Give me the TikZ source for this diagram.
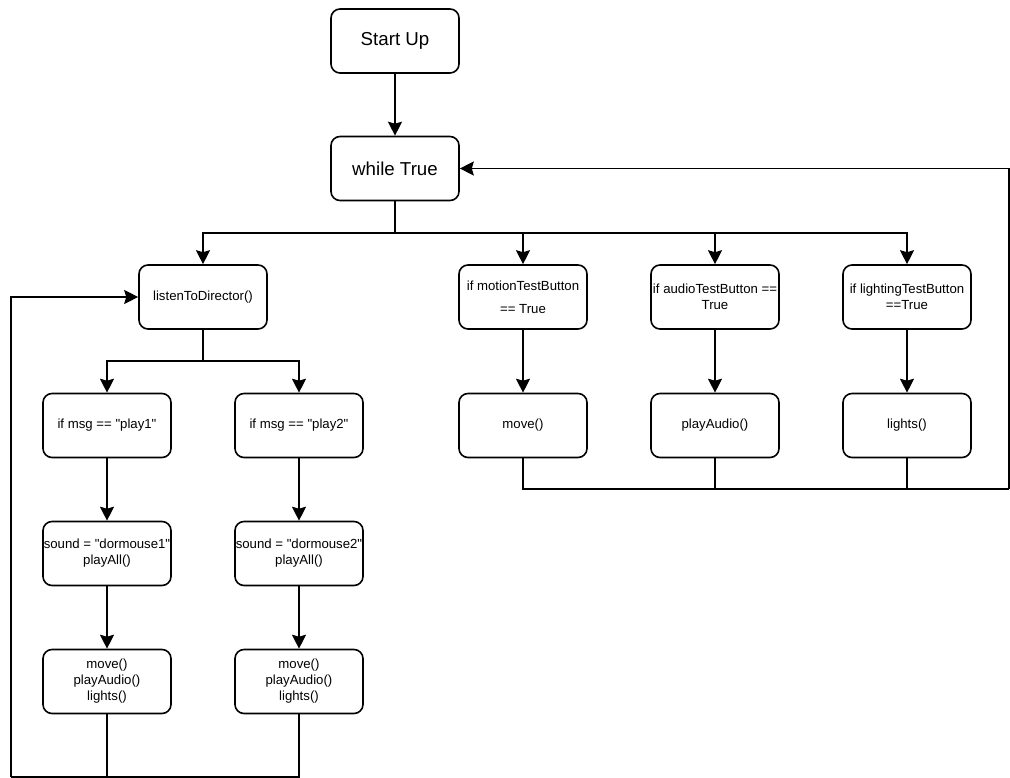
\documentclass[tikz,border=0pt]{standalone}
\usepackage{fontspec}
\setmainfont{Liberation Sans}
\usetikzlibrary{arrows.meta}
\newcommand{\dq}{\textquotedbl}
\begin{document}
\begin{tikzpicture}[x=1pt,y=-1pt,
  box/.style={draw=black,line width=1.6pt,rounded corners=9pt,fill=white,
    minimum width=128pt,minimum height=64pt,inner sep=0pt,align=center,
    font=\fontsize{13.2}{16}\selectfont},
  bigbox/.style={box,font=\fontsize{18.7}{22}\selectfont},
  link/.style={line width=1.6pt},
  flow/.style={link,-{Stealth[length=14pt,width=14pt,inset=2pt]}}]
\useasboundingbox (0,0) rectangle (1010,778);

% top of the loop
\node[bigbox] (start) at (395,41) {Start Up};
\node[bigbox] (loop) at (395,168.5) {while True};

% director branch
\node[box] (listen) at (203,297) {listenToDirector()};
\node[box] (msg1) at (107,425.5) {if msg == \dq play1\dq};
\node[box] (msg2) at (299,425.5) {if msg == \dq play2\dq};
\node[box] (snd1) at (107,553.5) {sound = \dq dormouse1\dq\\playAll()};
\node[box] (snd2) at (299,553.5) {sound = \dq dormouse2\dq\\playAll()};
\node[box] (all1) at (107,681.5) {move()\\playAudio()\\lights()};
\node[box] (all2) at (299,681.5) {move()\\playAudio()\\lights()};

% test buttons
\node[box,font=\fontsize{13.2}{23}\selectfont] (motion) at (523,297) {if motionTestButton\\== True};
\node[box] (audio) at (715,297) {if audioTestButton ==\\True};
\node[box] (light) at (907,297) {if lightingTestButton\\==True};
\node[box] (move) at (523,425.5) {move()};
\node[box] (play) at (715,425.5) {playAudio()};
\node[box] (lamp) at (907,425.5) {lights()};

% return points
\coordinate (fanA) at (395,233);
\coordinate (fanB) at (203,361);
\coordinate (botL) at (11,777);
\coordinate (topL) at (11,297);
\coordinate (botR) at (1009,489);
\coordinate (topR) at (1009,168.5);

\draw[flow] (start) -- (loop);

% fan out from the main loop
\draw[link] (loop.south) -- (fanA);
\draw[flow] (fanA) -| (listen.north);
\draw[flow] (fanA) -| (motion.north);
\draw[flow] (fanA) -| (audio.north);
\draw[flow] (fanA) -| (light.north);

% message handling
\draw[link] (listen.south) -- (fanB);
\draw[flow] (fanB) -| (msg1.north);
\draw[flow] (fanB) -| (msg2.north);
\draw[flow] (msg1) -- (snd1);
\draw[flow] (msg2) -- (snd2);
\draw[flow] (snd1) -- (all1);
\draw[flow] (snd2) -- (all2);

% back to the listener
\draw[link] (all2.south) |- (botL);
\draw[link] (all1.south) -- (all1.south |- botL);
\draw[flow] (botL) -- (topL) -- (listen.west);

% tests
\draw[flow] (motion) -- (move);
\draw[flow] (audio) -- (play);
\draw[flow] (light) -- (lamp);

% back to the main loop
\draw[link] (move.south) |- (botR);
\draw[link] (play.south) -- (play.south |- botR);
\draw[link] (lamp.south) -- (lamp.south |- botR);
\draw[flow] (botR) -- (topR) -- (loop.east);
\end{tikzpicture}
\end{document}
